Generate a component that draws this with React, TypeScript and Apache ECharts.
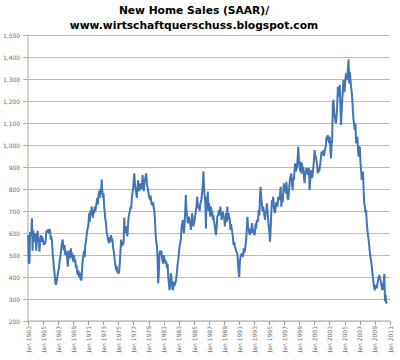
import React, { useEffect, useRef } from "react";
import * as echarts from "echarts";

const titleLine1 = "New Home Sales (SAAR)/";
const titleLine2 = "www.wirtschaftquerschuss.blogspot.com";

const startYear = 1963;
const endYear = 2011; // axis runs to Jan 2011
const monthNames = ["Jan", "Feb", "Mar", "Apr", "May", "Jun", "Jul", "Aug", "Sep", "Oct", "Nov", "Dec"];

// Monthly new home sales, thousands, SAAR
const y1963 = [591, 464, 461, 605, 586, 599, 667, 519, 612, 570, 560, 598];
const y1964 = [556, 520, 585, 610, 560, 575, 515, 570, 590, 560, 585, 575];
const y1965 = [560, 545, 555, 550, 570, 610, 605, 615, 612, 600, 618, 605];
const y1966 = [570, 585, 555, 510, 480, 440, 420, 380, 365, 372, 395, 410];
const y1967 = [430, 440, 470, 490, 510, 540, 560, 570, 535, 520, 545, 500];
const y1968 = [500, 520, 490, 447, 480, 520, 505, 485, 530, 495, 510, 480];
const y1969 = [470, 500, 465, 480, 440, 455, 425, 410, 430, 400, 420, 395];
const y1970 = [385, 390, 450, 480, 500, 520, 490, 550, 560, 590, 610, 625];
const y1971 = [640, 690, 650, 700, 680, 720, 690, 670, 705, 690, 720, 700];
const y1972 = [720, 740, 760, 730, 770, 790, 760, 800, 780, 843, 790, 760];
const y1973 = [780, 720, 690, 660, 640, 600, 590, 570, 560, 555, 580, 560];
const y1974 = [590, 570, 575, 540, 520, 500, 470, 470, 430, 450, 420, 425];
const y1975 = [415, 430, 470, 520, 570, 540, 560, 545, 560, 670, 600, 620];
const y1976 = [630, 600, 585, 640, 675, 690, 700, 720, 710, 760, 780, 800];
const y1977 = [840, 871, 820, 800, 780, 760, 800, 840, 810, 790, 826, 800];
const y1978 = [820, 800, 864, 830, 790, 830, 840, 860, 871, 820, 810, 790];
const y1979 = [790, 760, 750, 770, 740, 730, 727, 740, 710, 697, 650, 590];
const y1980 = [560, 540, 480, 371, 420, 500, 520, 500, 520, 490, 470, 460];
const y1981 = [500, 470, 480, 460, 470, 440, 460, 400, 370, 340, 360, 417];
const y1982 = [400, 370, 340, 350, 379, 360, 371, 380, 400, 430, 460, 480];
const y1983 = [508, 540, 550, 570, 620, 640, 660, 620, 600, 640, 700, 773];
const y1984 = [700, 680, 644, 660, 674, 650, 640, 614, 650, 690, 660, 630];
const y1985 = [630, 660, 680, 704, 720, 765, 730, 712, 720, 700, 735, 740];
const y1986 = [760, 788, 820, 880, 800, 765, 740, 620, 765, 720, 788, 700];
const y1987 = [735, 700, 674, 720, 690, 700, 660, 680, 650, 636, 610, 590];
const y1988 = [620, 674, 680, 690, 705, 680, 720, 690, 660, 680, 697, 670];
const y1989 = [674, 630, 660, 690, 650, 720, 660, 690, 670, 660, 614, 640];
const y1990 = [620, 600, 580, 545, 560, 540, 530, 520, 510, 508, 462, 420];
const y1991 = [400, 470, 492, 500, 508, 500, 492, 530, 510, 520, 545, 568];
const y1992 = [620, 674, 630, 614, 600, 591, 620, 600, 644, 630, 600, 614];
const y1993 = [590, 600, 644, 620, 660, 650, 660, 705, 680, 758, 810, 760];
const y1994 = [735, 700, 720, 705, 680, 660, 690, 700, 735, 700, 660, 630];
const y1995 = [600, 560, 620, 690, 750, 730, 765, 720, 700, 690, 720, 740];
const y1996 = [740, 720, 765, 760, 750, 780, 810, 720, 765, 740, 780, 826];
const y1997 = [790, 810, 780, 833, 800, 760, 750, 788, 820, 850, 860, 871];
const y1998 = [830, 795, 850, 841, 880, 917, 880, 879, 900, 940, 993, 930];
const y1999 = [902, 880, 924, 870, 917, 886, 900, 856, 826, 870, 880, 894];
const y2000 = [880, 864, 890, 894, 795, 840, 886, 860, 850, 871, 900, 932];
const y2001 = [977, 950, 947, 930, 909, 871, 900, 879, 890, 917, 940, 970];
const y2002 = [960, 955, 977, 950, 970, 985, 1000, 1038, 1020, 1045, 1030, 1008];
const y2003 = [1038, 990, 939, 1000, 1023, 1189, 1205, 1150, 1129, 1110, 1098, 1130];
const y2004 = [1182, 1265, 1220, 1240, 1273, 1174, 1091, 1150, 1205, 1250, 1295, 1240];
const y2005 = [1250, 1300, 1326, 1295, 1320, 1341, 1389, 1280, 1333, 1300, 1265, 1240];
const y2006 = [1205, 1150, 1114, 1090, 1068, 1098, 1008, 1020, 1038, 980, 947, 990];
const y2007 = [992, 920, 886, 841, 860, 879, 800, 735, 720, 690, 705, 650];
const y2008 = [614, 590, 568, 540, 508, 490, 470, 447, 420, 394, 370, 349];
const y2009 = [340, 364, 355, 349, 370, 386, 400, 409, 395, 394, 370, 349];
const y2010 = [340, 360, 380, 414, 290, 320, 280, 288];

const sales = [
  ...y1963, ...y1964, ...y1965, ...y1966, ...y1967, ...y1968, ...y1969, ...y1970,
  ...y1971, ...y1972, ...y1973, ...y1974, ...y1975, ...y1976, ...y1977, ...y1978,
  ...y1979, ...y1980, ...y1981, ...y1982, ...y1983, ...y1984, ...y1985, ...y1986,
  ...y1987, ...y1988, ...y1989, ...y1990, ...y1991, ...y1992, ...y1993, ...y1994,
  ...y1995, ...y1996, ...y1997, ...y1998, ...y1999, ...y2000, ...y2001, ...y2002,
  ...y2003, ...y2004, ...y2005, ...y2006, ...y2007, ...y2008, ...y2009, ...y2010,
];

const categories: string[] = [];
for (let y = startYear; y <= endYear; y++) {
  for (let m = 0; m < 12; m++) {
    if (y === endYear && m > 0) break;
    categories.push(monthNames[m] + " " + y);
  }
}

const labelEvery = 24;

export default function App() {
  const ref = useRef<HTMLDivElement>(null);
  useEffect(() => {
    if (!ref.current) return;
    const chart = echarts.init(ref.current, null, { renderer: "svg" });
    const axisGray = "#c4c4c4";
    const labelGray = "#707070";
    chart.setOption({
      animation: false,
      backgroundColor: "#ffffff",
      graphic: [
        {
          type: "text",
          x: 194,
          y: 10,
          style: {
            text: titleLine1,
            font: "bold 10.7px 'DejaVu Sans'",
            fill: "#000000",
            textAlign: "center",
            textVerticalAlign: "middle",
          },
        },
        {
          type: "text",
          x: 194,
          y: 25,
          style: {
            text: titleLine2,
            font: "bold 10.7px 'DejaVu Sans'",
            fill: "#000000",
            textAlign: "center",
            textVerticalAlign: "middle",
          },
        },
      ],
      grid: { left: 26, right: 10, top: 35, bottom: 39, containLabel: false },
      xAxis: {
        type: "category",
        data: categories,
        boundaryGap: false,
        axisLine: { show: true, lineStyle: { color: axisGray, width: 1.5 } },
        axisTick: {
          show: true,
          length: 4,
          interval: (i: number) => i % labelEvery === 0,
          lineStyle: { color: "#a0a0a0" },
        },
        axisLabel: {
          interval: (i: number) => i % labelEvery === 0,
          rotate: 90,
          margin: 5,
          fontFamily: "DejaVu Sans",
          fontSize: 6,
          color: labelGray,
        },
        splitLine: { show: false },
      },
      yAxis: {
        type: "value",
        min: 200,
        max: 1500,
        interval: 100,
        axisLine: { show: true, lineStyle: { color: "#d4d4d4", width: 2 } },
        axisTick: { show: true, length: 5, lineStyle: { color: "#b0b0b0" } },
        axisLabel: {
          margin: 8,
          fontFamily: "DejaVu Sans",
          fontSize: 6,
          color: labelGray,
          formatter: (v: number) => v.toLocaleString("en-US"),
        },
        splitLine: { show: true, lineStyle: { color: "#bdbdbd", width: 1.2 } },
      },
      series: [
        {
          type: "line",
          data: sales,
          showSymbol: false,
          symbol: "none",
          lineStyle: { color: "#4274b6", width: 2 },
        },
      ],
    });
    return () => chart.dispose();
  }, []);
  return (
    <div
      ref={ref}
      style={{ position: "fixed", left: 0, top: 0, width: 400, height: 360 }}
    />
  );
}
